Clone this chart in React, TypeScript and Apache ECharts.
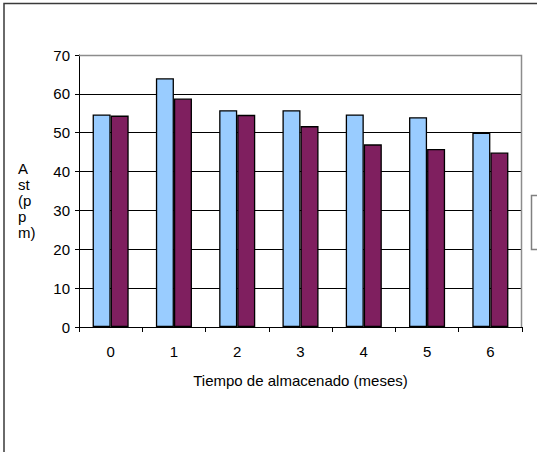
import React, { useEffect, useRef } from "react";
import * as echarts from "echarts";

const categories = ["0", "1", "2", "3", "4", "5", "6"];
const seriesA = [54.7, 64, 55.8, 55.8, 54.7, 54, 50];
const seriesB = [54.4, 58.8, 54.6, 51.7, 47, 45.8, 44.9];
const yTicks = { min: 0, max: 70, interval: 10 };
const xTitle = "Tiempo de almacenado (meses)";
const yTitle = "A\nst\n(p\np\nm)";

const FONT = "'Liberation Sans', Arial, sans-serif";

export default function App() {
  const ref = useRef<HTMLDivElement>(null);
  useEffect(() => {
    document.body.style.margin = "0";
    const chart = echarts.init(ref.current!, null, { renderer: "svg" });
    chart.setOption({
      animation: false,
      backgroundColor: "#ffffff",
      textStyle: { fontFamily: FONT },
      grid: { left: 79, right: 15, top: 55, bottom: 125, containLabel: false },
      xAxis: {
        type: "category",
        data: categories,
        boundaryGap: true,
        axisLine: { show: true, lineStyle: { color: "#000", width: 1 } },
        axisTick: { show: true, alignWithLabel: false, length: 5, lineStyle: { color: "#000" } },
        axisLabel: { color: "#000", fontSize: 15, margin: 17, fontFamily: FONT },
        name: xTitle,
        nameLocation: "middle",
        nameGap: 46,
        nameTextStyle: { color: "#000", fontSize: 15, fontFamily: FONT },
        splitLine: { show: false },
      },
      yAxis: {
        type: "value",
        min: yTicks.min,
        max: yTicks.max,
        interval: yTicks.interval,
        axisLine: { show: true, lineStyle: { color: "#000", width: 1 } },
        axisTick: { show: true, inside: false, length: 4, lineStyle: { color: "#000" } },
        axisLabel: { color: "#000", fontSize: 15, margin: 9, fontFamily: FONT },
        splitLine: { show: true, lineStyle: { color: "#000", width: 1 } },
      },
      series: [
        {
          type: "bar",
          data: seriesA,
          barGap: "0%",
          barCategoryGap: "43%",
          itemStyle: { color: "#99ccff", borderColor: "#000", borderWidth: 1.3 },
        },
        {
          type: "bar",
          data: seriesB,
          itemStyle: { color: "#7f1f5f", borderColor: "#000", borderWidth: 1.3 },
        },
      ],
      graphic: [
        {
          type: "polyline",
          z: 100,
          shape: { points: [[79, 55.5], [521.5, 55.5], [521.5, 327]] },
          style: { stroke: "#8c8c8c", lineWidth: 1.5, fill: null },
        },
        {
          type: "rect",
          z: 100,
          shape: { x: 4, y: 3.5, width: 700, height: 700 },
          style: { stroke: "#3a3a3a", lineWidth: 1.5, fill: null },
        },
        {
          type: "rect",
          z: 100,
          shape: { x: 531.5, y: 195.5, width: 40, height: 54 },
          style: { stroke: "#808080", lineWidth: 1.5, fill: null },
        },
        {
          type: "text",
          z: 100,
          x: 18,
          y: 160,
          style: {
            text: yTitle,
            fontSize: 15,
            lineHeight: 16,
            fill: "#000",
            fontFamily: FONT,
            align: "left",
          },
        },
      ],
    });
    return () => chart.dispose();
  }, []);
  return (
    <div
      ref={ref}
      style={{ position: "absolute", left: 0, top: 0, width: 537, height: 452 }}
    />
  );
}
